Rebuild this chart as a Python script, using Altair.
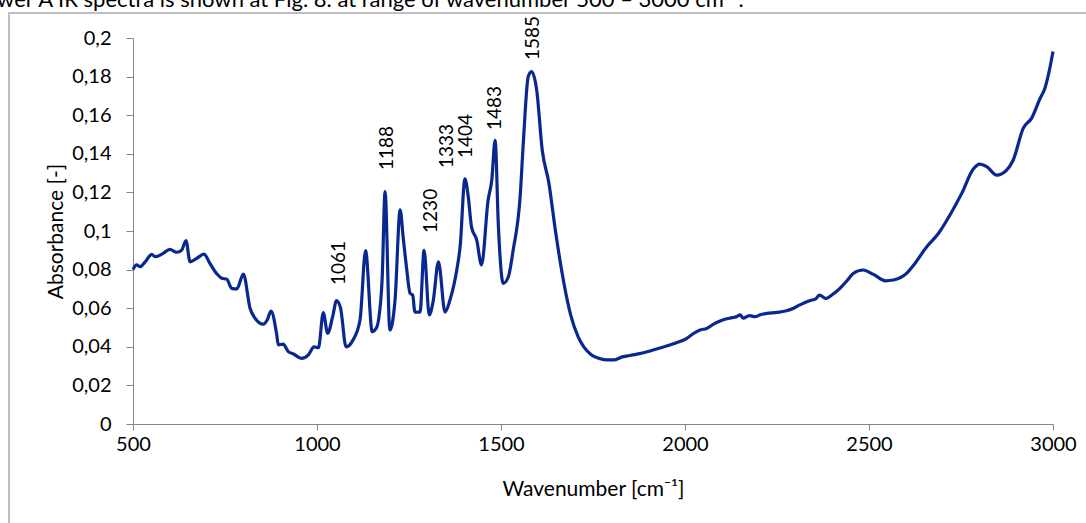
import altair as alt
import pandas as pd

# ---- data ----
wavenumber = [500, 510, 519, 533, 551, 560, 582, 600, 619, 632, 644, 655, 673, 693, 709, 727, 741, 755,
              768, 782, 800, 818, 832, 854, 865, 875, 890, 895, 908, 922, 936, 958, 976, 992, 1004,
              1017, 1029, 1043, 1053, 1064, 1079, 1097, 1117, 1132, 1150, 1162, 1168, 1177, 1185, 1198,
              1212, 1226, 1234, 1243, 1253, 1260, 1266, 1280, 1291, 1305, 1316, 1330, 1348, 1361, 1380,
              1389, 1402, 1411, 1420, 1434, 1447, 1465, 1475, 1484, 1493, 1506, 1520, 1533, 1552, 1561,
              1574, 1583, 1597, 1612, 1630, 1648, 1670, 1690, 1710, 1725, 1746, 1770, 1787, 1805, 1832,
              1850, 1870, 1905, 1930, 1950, 1975, 2005, 2020, 2041, 2059, 2080, 2104, 2125, 2140, 2150,
              2158, 2175, 2190, 2205, 2222, 2250, 2276, 2295, 2312, 2340, 2355, 2365, 2383, 2400, 2421,
              2440, 2457, 2484, 2512, 2545, 2566, 2602, 2620, 2657, 2689, 2720, 2752, 2783, 2801, 2820,
              2847, 2874, 2892, 2919, 2942, 2965, 2978, 2992, 3000]
absorbance = [0.080, 0.0824, 0.0815, 0.084, 0.0879, 0.0867, 0.0884, 0.0905, 0.089, 0.090, 0.095, 0.084,
              0.0858, 0.088, 0.0832, 0.078, 0.0755, 0.075, 0.0703, 0.070, 0.0777, 0.060, 0.0547, 0.0517,
              0.054, 0.0585, 0.047, 0.041, 0.0414, 0.0375, 0.0363, 0.034, 0.0357, 0.040, 0.0395,
              0.0577, 0.047, 0.056, 0.0639, 0.060, 0.040, 0.0432, 0.054, 0.0898, 0.0478, 0.050, 0.055,
              0.075, 0.1204, 0.0487, 0.064, 0.111, 0.097, 0.0815, 0.0677, 0.0668, 0.058, 0.058, 0.090,
              0.0565, 0.064, 0.084, 0.058, 0.064, 0.080, 0.092, 0.127, 0.1178, 0.102, 0.0953, 0.0824,
              0.116, 0.1264, 0.147, 0.102, 0.0729, 0.0763, 0.090, 0.1178, 0.147, 0.180, 0.1826, 0.173,
              0.142, 0.125, 0.100, 0.074, 0.056, 0.045, 0.040, 0.0358, 0.0338, 0.0332, 0.0332, 0.0349,
              0.0355, 0.0362, 0.0378, 0.0392, 0.0404, 0.042, 0.0444, 0.0465, 0.0487, 0.0495, 0.052,
              0.054, 0.055, 0.0556, 0.0565, 0.0548, 0.0562, 0.0556, 0.0566, 0.0573, 0.0578, 0.0587,
              0.060, 0.0617, 0.064, 0.0648, 0.0668, 0.065, 0.067, 0.0703, 0.0742, 0.078, 0.0798,
              0.0775, 0.0742, 0.0746, 0.078, 0.082, 0.0919, 0.0988, 0.1083, 0.1195, 0.132, 0.1347,
              0.1333, 0.129, 0.1316, 0.1368, 0.1532, 0.1585, 0.1688, 0.174, 0.185, 0.193]

peak_labels = ["1061", "1188", "1230", "1333", "1404", "1483", "1585"]
peak_label_x = [1061, 1189, 1309, 1352, 1405, 1484, 1587]
peak_label_y = [0.072, 0.1316, 0.099, 0.1326, 0.1378, 0.1523, 0.1886]

x_ticks = [500, 1000, 1500, 2000, 2500, 3000]
y_ticks = [0, 0.02, 0.04, 0.06, 0.08, 0.1, 0.12, 0.14, 0.16, 0.18, 0.2]

caption = "wer A IR spectra is shown at Fig. 8. at range of wavenumber 500 \u2013 3000 cm\u207b\u00b9."

FONT = "Lato"
LINE = "#082890"

spec = pd.DataFrame({"w": wavenumber, "a": absorbance})
labs = pd.DataFrame({"label": peak_labels, "w": peak_label_x, "a": peak_label_y})
one = pd.DataFrame({"k": [0]})

x_scale = alt.Scale(domain=[500, 3000], nice=False, zero=False)
y_scale = alt.Scale(domain=[0, 0.2], nice=False, zero=True)

x_axis = alt.Axis(values=x_ticks, format="d", title="Wavenumber [cm\u207b\u00b9]",
                  labelFlush=False, labelOverlap=False, tickSize=6, labelPadding=4,
                  titlePadding=24)
y_axis = alt.Axis(values=y_ticks, title="Absorbance [-]",
                  labelExpr="replace(format(datum.value, '.2~f'), '.', ',')",
                  labelFlush=False, labelOverlap=False, tickSize=7, labelPadding=15,
                  titlePadding=5)

frame = alt.Chart(one).mark_rect(fill=None, stroke="#BFBFBF", strokeWidth=2).encode(
    x=alt.value(-124), x2=alt.value(1000), y=alt.value(-25), y2=alt.value(520)
)

cap = alt.Chart(one).mark_text(
    align="left", baseline="alphabetic", font=FONT, fontSize=22, color="#000000"
).encode(x=alt.value(-136), y=alt.value(-31), text=alt.value(caption))

line = alt.Chart(spec).mark_line(color=LINE, strokeWidth=3.2, interpolate="monotone").encode(
    x=alt.X("w:Q", scale=x_scale, axis=x_axis),
    y=alt.Y("a:Q", scale=y_scale, axis=y_axis),
)

peaks = alt.Chart(labs).mark_text(
    angle=270, align="left", baseline="middle", font=FONT, fontSize=19, color="#000000"
).encode(
    x=alt.X("w:Q", scale=x_scale, axis=x_axis),
    y=alt.Y("a:Q", scale=y_scale, axis=y_axis),
    text="label:N",
)

chart = alt.layer(frame, cap, line, peaks).properties(
    width=920, height=386,
    autosize=alt.AutoSizeParams(type="none"),
    padding={"left": 133, "top": 38, "right": 33, "bottom": 99},
    background="white",
).configure_view(stroke=None).configure_axis(
    grid=False, domainColor="#868686", tickColor="#868686", domainWidth=1, tickWidth=1,
    labelFont=FONT, labelFontSize=20, labelColor="#000000",
    titleFont=FONT, titleFontSize=21, titleFontWeight="normal", titleColor="#000000",
)

chart.save("out.html", embed_options={"renderer": "svg", "actions": False})
